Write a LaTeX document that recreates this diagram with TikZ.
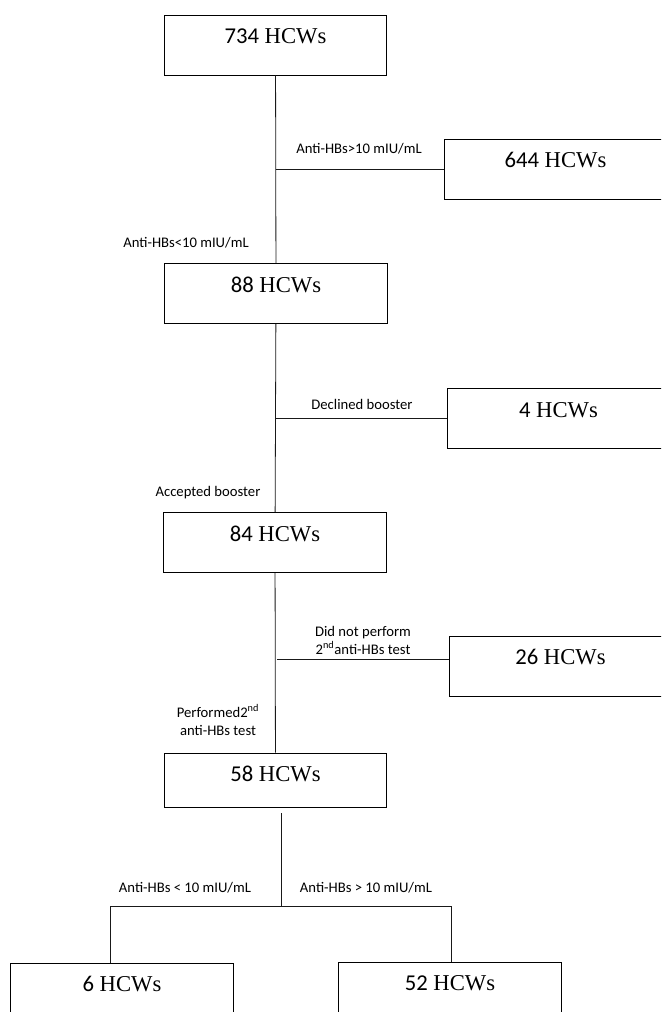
\documentclass[tikz,border=0pt]{standalone}
\usepackage{fontspec}
\setmainfont{Liberation Serif}
\newfontfamily\calibri{Carlito}
\newcommand{\hcws}[1]{{\calibri #1} HCWs}
\tikzset{
    hcw/.style={draw, line width=0.6pt, minimum width=167pt, inner ysep=0pt, text height=21.5pt, text depth=23.5pt, font=\fontsize{17}{20}\selectfont},
    cond/.style={font=\calibri\fontsize{11}{13.5}\selectfont, align=center, inner sep=0pt},
    link/.style={line width=0.6pt, black!90}
}
\begin{document}
\begin{tikzpicture}[x=0.75pt, y=-0.75pt]
        \useasboundingbox (0,0) rectangle (661,1012);
        \clip (0,0) rectangle (661,1012);

        \node[hcw] (n734) at (275.5,45) {\hcws{734}};
        \node[hcw] (n644) at (555.5,169) {\hcws{644}};
        \node[hcw] (n88) at (276,293.5) {\hcws{88}};
        \node[hcw] (n4) at (558.5,418.5) {\hcws{4}};
        \node[hcw] (n84) at (275,542.5) {\hcws{84}};
        \node[hcw] (n26) at (560.5,666) {\hcws{26}};
        \node[hcw, text depth=19pt] (n58) at (275.5,780) {\hcws{58}};
        \node[hcw] (n6) at (122,993) {\hcws{6}};
        \node[hcw] (n52) at (450,992) {\hcws{52}};

        \coordinate (b1) at (275.5,169);
        \coordinate (b2) at (276,418.5);
        \coordinate (b3) at (277,659);
        \coordinate (b4) at (281,906);
        \coordinate (b6) at (110,906);
        \coordinate (b52) at (451,906);

        \draw [link] (n734) -- (n88);
        \draw [link] (b1) -- (n644);
        \draw [link] (n88) -- (n84);
        \draw [link] (b2) -- (n4);
        \draw [link] (n84) -- (n58);
        \draw [link] (b3) -- (b3 -| n26.west);
        \draw [link, shorten <=4.5pt] (n58.south -| b4) -- (b4);
        \draw [link] (b6) -- (b52);
        \draw [link] (b6) -- (b6 |- n6.north);
        \draw [link] (b52) -- (b52 |- n52.north);

        \node[cond] (l1) at (359,149) {Anti-HBs>10 mIU/mL};
        \node[cond] (l2) at (186,243) {Anti-HBs<10 mIU/mL};
        \node[cond] (l3) at (362,404) {Declined booster};
        \node[cond] (l4) at (208,493) {Accepted booster};
        \node[cond] (l5) at (363,640) {Did not perform\\2\textsuperscript{nd}anti-HBs test};
        \node[cond] (l6) at (218,720) {Performed2\textsuperscript{nd}\\anti-HBs test};
        \node[cond] (l7) at (185,888) {Anti-HBs < 10 mIU/mL};
        \node[cond] (l8) at (366,888) {Anti-HBs > 10 mIU/mL};
    \end{tikzpicture}
\end{document}
